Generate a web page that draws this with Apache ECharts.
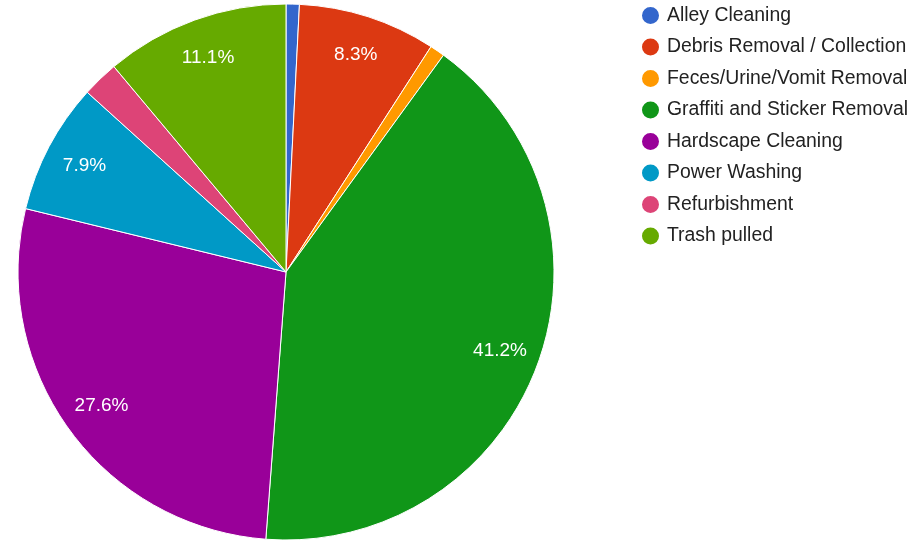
<!DOCTYPE html>
<html>
<head>
<meta charset="utf-8">
<script src="https://cdn.jsdelivr.net/npm/echarts@6/dist/echarts.min.js"></script>
<style>html,body{margin:0;padding:0;background:#fff;}#c{width:913px;height:544px;}</style>
</head>
<body>
<div id="c"></div>
<script>
const categories = ["Alley Cleaning", "Debris Removal / Collection", "Feces/Urine/Vomit Removal", "Graffiti and Sticker Removal", "Hardscape Cleaning", "Power Washing", "Refurbishment", "Trash pulled"];
const values = [0.8, 8.3, 0.9, 41.2, 27.6, 7.9, 2.2, 11.1];
const colors = ["#3366cc", "#dc3912", "#ff9900", "#109618", "#990099", "#0099c6", "#dd4477", "#66aa00"];

const chart = echarts.init(document.getElementById('c'));
const total = values.reduce((a, b) => a + b, 0);
const data = categories.map((n, i) => ({ name: n, value: values[i], itemStyle: { color: colors[i] } }));
const labelData = categories.map((n, i) => ({ name: n, value: values[i], itemStyle: { color: 'rgba(0,0,0,0)' } }));
chart.setOption({
  animation: false,
  color: colors,
  legend: {
    orient: 'vertical',
    left: 635,
    top: 0,
    icon: 'circle',
    itemWidth: 19,
    itemHeight: 19,
    itemGap: 10.5,
    textStyle: { fontFamily: 'Liberation Sans, Arial, sans-serif', fontSize: 19.4, color: '#222', padding: [0, 0, 0, 2] },
    data: categories
  },
  series: [
    {
      type: 'pie',
      center: [286, 272],
      radius: [0, 268],
      startAngle: 90,
      clockwise: true,
      avoidLabelOverlap: false,
      label: { show: false },
      labelLine: { show: false },
      itemStyle: { borderColor: '#fff', borderWidth: 1 },
      emphasis: { disabled: true },
      data: data
    },
    {
      type: 'pie',
      center: [286, 272],
      radius: [182, 268],
      startAngle: 90,
      clockwise: true,
      silent: true,
      avoidLabelOverlap: false,
      legendHoverLink: false,
      label: {
        show: true,
        position: 'inside',
        color: '#fff',
        fontFamily: 'Liberation Sans, Arial, sans-serif',
        fontSize: 19,
        formatter: p => (p.value / total * 100 >= 5 ? (p.value / total * 100).toFixed(1) + '%' : '')
      },
      labelLine: { show: false },
      emphasis: { disabled: true },
      data: labelData
    }
  ]
});
</script>
</body>
</html>
